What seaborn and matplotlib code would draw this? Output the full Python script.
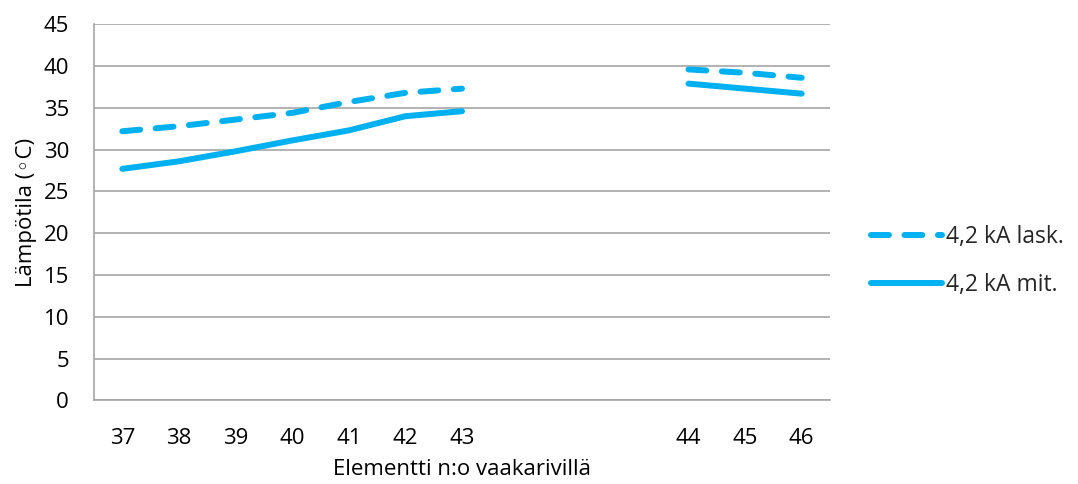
import numpy as np
import pandas as pd
import matplotlib
matplotlib.use("Agg")
import matplotlib.pyplot as plt
import seaborn as sns
from matplotlib.lines import Line2D

# ---- data ----
elements = ["37", "38", "39", "40", "41", "42", "43", "", "", "", "44", "45", "46"]
lask = [32.2, 32.8, 33.6, 34.4, 35.7, 36.8, 37.3, np.nan, np.nan, np.nan, 39.6, 39.2, 38.6]
mit = [27.7, 28.6, 29.8, 31.1, 32.3, 34.0, 34.6, np.nan, np.nan, np.nan, 37.9, 37.3, 36.7]
series_names = ["4,2 kA lask.", "4,2 kA mit."]
y_ticks = [0, 5, 10, 15, 20, 25, 30, 35, 40, 45]

sns.set_theme(style="white")
plt.rcParams["font.family"] = ["Open Sans", "DejaVu Sans"]

COLOR = "#00B0F0"
GRID = "#a6a6a6"
FS = 16
LW = 4.3

fig = plt.figure(figsize=(10.78, 4.84), dpi=100)
ax = fig.add_axes([94 / 1078, (484 - 400.3) / 484, (830 - 94) / 1078, (400.3 - 24.3) / 484])

pos = np.arange(len(elements))
styles = {series_names[0]: dict(linestyle=(0, (3.0, 2.6)), dash_capstyle="round"),
          series_names[1]: dict(linestyle="-", solid_capstyle="round")}

for name, vals in zip(series_names, [lask, mit]):
    df = pd.DataFrame({"pos": pos, "value": vals})
    df["seg"] = df["value"].isna().cumsum()
    df = df.dropna()
    for s, sub in df.groupby("seg"):
        sns.lineplot(data=sub, x="pos", y="value", ax=ax, color=COLOR, lw=LW,
                     estimator=None, sort=False, legend=False, **styles[name])

ax.set_xlim(-0.5, len(elements) - 0.5)
ax.set_ylim(0, 45)
ax.set_yticks(y_ticks)
ax.set_xticks(pos)
ax.set_xticklabels(elements)
ax.tick_params(axis="both", length=0, labelsize=FS, colors="black")
ax.tick_params(axis="x", pad=20)
ax.tick_params(axis="y", pad=18)
ax.yaxis.grid(True, color=GRID, lw=1.2)
ax.set_axisbelow(True)
for sp in ["top", "right"]:
    ax.spines[sp].set_visible(False)
for sp in ["left", "bottom"]:
    ax.spines[sp].set_color(GRID)
    ax.spines[sp].set_linewidth(1.2)

ax.set_xlabel("Elementti n:o vaakarivillä", fontsize=FS, color="black", labelpad=7)
ax.set_ylabel("Lämpötila (◦C)", fontsize=FS, color="black", labelpad=5)

handles = [Line2D([], [], color=COLOR, lw=LW, **styles[series_names[0]]),
           Line2D([], [], color=COLOR, lw=LW, **styles[series_names[1]])]
fig.legend(handles, series_names, loc="upper left", bbox_to_anchor=(864 / 1078, 1 - 218 / 484),
           frameon=False, fontsize=16.5, handlelength=3.1, handletextpad=0.2,
           labelspacing=1.04, borderaxespad=0, borderpad=0.3)

fig.savefig("out.png", dpi=100)
